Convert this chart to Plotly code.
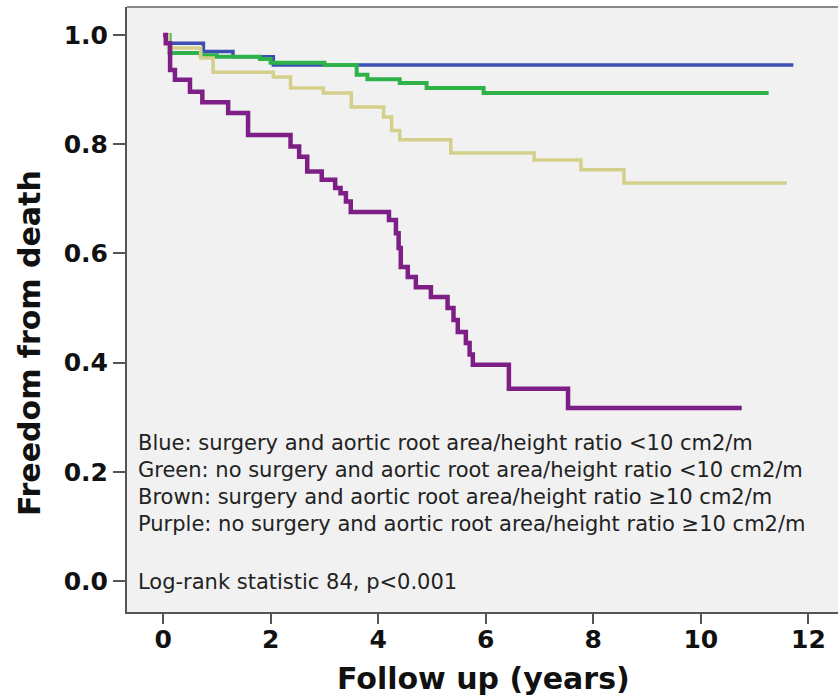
import plotly.graph_objects as go

# Kaplan-Meier step data (time in years, survival after the step)
blue_t = [0, 0.10, 0.75, 1.30, 2.05, 11.72]
blue_s = [1.0, 0.985, 0.97, 0.96, 0.945, 0.945]

green_t = [0, 0.12, 0.70, 1.00, 1.80, 2.00, 3.00, 3.60, 3.80, 4.40, 4.90, 5.96, 11.26]
green_s = [1.0, 0.967, 0.963, 0.960, 0.956, 0.949, 0.945, 0.927, 0.919, 0.912, 0.903, 0.894, 0.894]

brown_t = [0, 0.10, 0.70, 0.93, 2.05, 2.37, 2.98, 3.50, 4.10, 4.25, 4.40, 5.35, 6.90, 7.77, 8.57, 11.60]
brown_s = [1.0, 0.976, 0.958, 0.932, 0.923, 0.903, 0.894, 0.868, 0.850, 0.825, 0.808, 0.784, 0.771, 0.753, 0.729, 0.729]

purple_t = [0, 0.05, 0.13, 0.22, 0.50, 0.73, 1.21, 1.58, 2.37, 2.53, 2.68, 2.95, 3.20, 3.30, 3.40,
            3.49, 4.20, 4.33, 4.38, 4.42, 4.55, 4.70, 4.98, 5.29, 5.40, 5.48, 5.63, 5.70, 5.76,
            6.43, 7.53, 10.76]
purple_s = [1.0, 0.985, 0.936, 0.918, 0.896, 0.877, 0.857, 0.817, 0.796, 0.777, 0.750, 0.735, 0.720, 0.710, 0.695,
            0.676, 0.661, 0.637, 0.610, 0.575, 0.557, 0.538, 0.520, 0.500, 0.478, 0.456, 0.436, 0.415, 0.396,
            0.352, 0.317, 0.317]

x_ticks = [0, 2, 4, 6, 8, 10, 12]
y_ticks = [0.0, 0.2, 0.4, 0.6, 0.8, 1.0]
y_tick_labels = ["0.0", "0.2", "0.4", "0.6", "0.8", "1.0"]

legend_lines = [
    "Blue: surgery and aortic root area/height ratio <10 cm2/m",
    "Green: no surgery and aortic root area/height ratio <10 cm2/m",
    "Brown: surgery and aortic root area/height ratio \u226510 cm2/m",
    "Purple: no surgery and aortic root area/height ratio \u226510 cm2/m",
]
stat_text = "Log-rank statistic 84, p<0.001"

series = [
    (blue_t, blue_s, "#3d4fb2", 3.5),
    (green_t, green_s, "#2fb24a", 4),
    (brown_t, brown_s, "#d5cf8c", 3.5),
    (purple_t, purple_s, "#7d1f86", 4.5),
]

fig = go.Figure()
for t, s, c, w in series:
    fig.add_trace(go.Scatter(x=t, y=s, mode="lines", line=dict(color=c, width=w, shape="hv"),
                             showlegend=False, hoverinfo="skip"))

ML, MR, MT, MB = 127, 0, 7, 85
W, H = 838, 697
pw = W - ML - MR
ph = H - MT - MB

def px_to_paper_x(px):
    return (px - ML) / pw

def px_to_paper_y(py):
    return (H - MB - py) / ph

annotations = []
legend_y = [443, 470, 497, 524]
for txt, py in zip(legend_lines, legend_y):
    annotations.append(dict(text=txt, xref="paper", yref="paper", x=px_to_paper_x(136), y=px_to_paper_y(py),
                            xanchor="left", yanchor="middle", showarrow=False,
                            font=dict(family="DejaVu Sans", size=21, color="#222")))
annotations.append(dict(text=stat_text, xref="paper", yref="paper", x=px_to_paper_x(136), y=px_to_paper_y(582),
                        xanchor="left", yanchor="middle", showarrow=False,
                        font=dict(family="DejaVu Sans", size=21, color="#222")))
annotations.append(dict(text="Follow up (years)", xref="paper", yref="paper", x=px_to_paper_x(483),
                        y=px_to_paper_y(678), xanchor="center", yanchor="middle", showarrow=False,
                        font=dict(family="DejaVu Sans", size=30, color="#111", weight="bold")))
annotations.append(dict(text="Freedom from death", xref="paper", yref="paper", x=px_to_paper_x(29),
                        y=px_to_paper_y(343), xanchor="center", yanchor="middle", showarrow=False,
                        textangle=-90,
                        font=dict(family="DejaVu Sans", size=30, color="#111", weight="bold")))

fig.update_layout(
    width=W, height=H,
    margin=dict(l=ML, r=MR, t=MT, b=MB),
    paper_bgcolor="white",
    plot_bgcolor="#f1f1f1",
    annotations=annotations,
    xaxis=dict(range=[-0.671, 12.55], tickvals=x_ticks, showgrid=False, zeroline=False,
               showline=True, linecolor="#555", linewidth=2, mirror=False,
               ticks="outside", ticklen=10, tickwidth=2, tickcolor="#555",
               ticklabelstandoff=-6,
               tickfont=dict(family="DejaVu Sans", size=25, color="#111", weight="bold")),
    yaxis=dict(range=[-0.0568, 1.0513], tickvals=y_ticks, ticktext=y_tick_labels, showgrid=False,
               zeroline=False, showline=True, linecolor="#555", linewidth=2, mirror=False,
               ticks="outside", ticklen=12, tickwidth=2, tickcolor="#555",
               tickfont=dict(family="DejaVu Sans", size=25, color="#111", weight="bold")),
    shapes=[dict(type="line", xref="paper", yref="paper", x0=0, x1=1, y0=1, y1=1,
                 line=dict(color="#888", width=2))],
)

fig.write_html("out.html")
